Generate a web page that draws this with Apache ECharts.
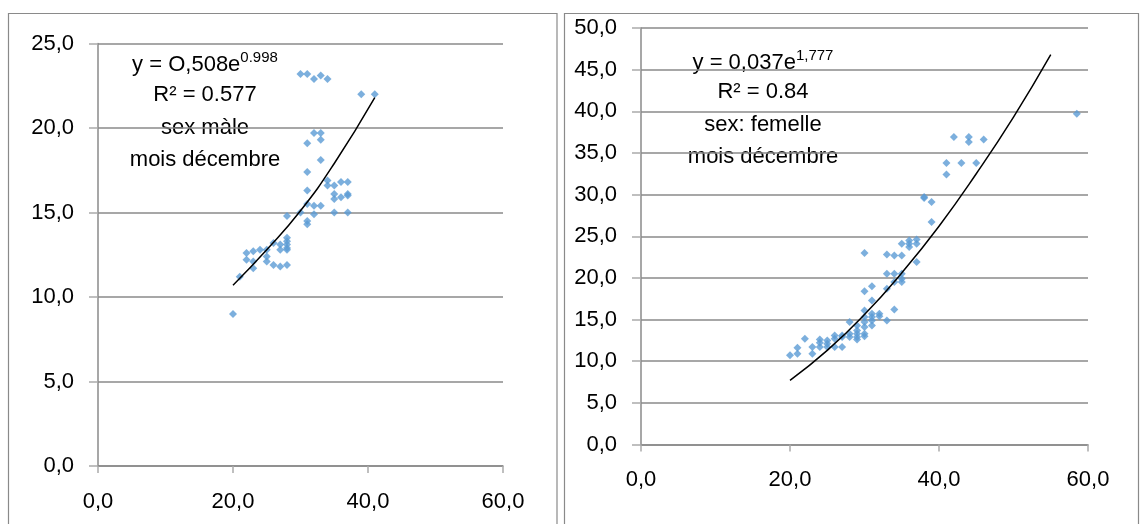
<!DOCTYPE html>
<html><head><meta charset="utf-8">
<script src="https://cdn.jsdelivr.net/npm/echarts/dist/echarts.min.js"></script>
<style>html,body{margin:0;padding:0;background:#fff}#c{width:1142px;height:524px}</style>
</head><body><div id="c"></div>
<script>
// Left panel: male, December
var maleX = [20,21,22,22,23,23,23,24,25,25,25,26,26,27,27,27,28,28,28,28,28,28,28,30,30,31,31,31,31,31,31,31,32,32,32,32,33,33,33,33,33,34,34,34,35,35,35,35,36,36,37,37,37,37,39,41];
var maleY = [9.0,11.2,12.6,12.2,12.7,12.1,11.7,12.8,12.8,12.4,12.1,13.2,11.9,13.1,12.8,11.8,13.5,13.3,13.1,12.9,12.8,11.9,14.8,15.0,23.2,23.2,19.1,17.4,16.3,15.5,14.5,14.3,22.9,19.7,15.4,14.9,23.1,19.7,19.3,18.1,15.4,22.9,16.9,16.6,16.6,16.1,15.8,15.0,16.8,15.9,16.8,16.1,16.0,15.0,22.0,22.0];
var maleTrendX = [20,25,30,35,41];
var maleTrendY = [10.7,12.8,15.1,17.9,21.8];
// Right panel: female, December
var femX = [20,21,21,22,23,23,24,24,24,25,25,25,26,26,26,27,27,27,28,28,28,29,29,29,29,29,30,30,30,30,30,30,30,30,31,31,31,31,31,31,32,32,33,33,33,33,34,34,34,34,35,35,35,35,35,36,36,36,37,37,37,38,38,39,39,41,41,42,43,44,44,45,46,58.5];
var femY = [10.7,11.6,10.9,12.7,11.7,10.9,12.6,12.2,11.7,12.5,12.1,11.7,13.1,12.7,11.7,12.9,11.7,13.1,14.7,12.9,13.3,14.3,13.7,13.3,12.9,12.6,23.0,18.4,16.1,15.3,14.7,14.1,13.3,13.0,19.0,17.3,15.7,14.9,14.3,15.3,15.7,15.4,22.8,20.5,18.7,14.9,22.7,20.5,19.5,16.2,24.1,22.7,20.5,19.9,19.5,24.5,24.1,23.7,24.6,24.1,21.9,29.7,29.6,29.1,26.7,33.8,32.4,36.9,33.8,36.9,36.3,33.8,36.6,39.7];
var femTrendX = [20,25,30,35,40,45,50,55];
var femTrendY = [7.7,11.3,15.6,20.6,26.2,32.5,39.3,46.8];
var xTicks = {min:0, max:60, interval:20};
var leftNotes = ['y = O,508e', '0.998', 'R² = 0.577', 'sex màle', 'mois décembre'];
var rightNotes = ['y = 0,037e', '1,777', 'R² = 0.84', 'sex: femelle', 'mois décembre'];

function zip(a,b){return a.map(function(v,i){return [v,b[i]];});}
var FONT = '"Liberation Sans", Arial, sans-serif';
var GRAY = '#8a8a8a';
function fmt(v){return v.toFixed(1).replace('.',',');}
function xAx(g,m){return {type:'value',gridIndex:g,min:xTicks.min,max:xTicks.max,interval:xTicks.interval,
  axisLine:{show:true,onZero:false,lineStyle:{color:GRAY,width:1.5}},
  axisTick:{show:true,length:7,lineStyle:{color:'#aaa',width:1.5}},
  splitLine:{show:false},
  axisLabel:{formatter:fmt,color:'#000',fontFamily:FONT,fontSize:22,margin:m}};}
function yAx(g,max,iv){return {type:'value',gridIndex:g,min:0,max:max,interval:iv,
  axisLine:{show:true,lineStyle:{color:GRAY,width:1.5}},
  axisTick:{show:true,length:9,lineStyle:{color:'#aaa',width:1.5}},
  splitLine:{show:true,lineStyle:{color:GRAY,width:1.5}},
  axisLabel:{formatter:fmt,color:'#000',fontFamily:FONT,fontSize:22,margin:24}};}
function notes(n,cx,ys){
  var t = [];
  t.push({type:'text',x:cx,y:ys[0],style:{text:'{a|'+n[0]+'}{s|'+n[1]+'}',align:'center',
    rich:{a:{fontSize:22,fontFamily:FONT,fill:'#000',lineHeight:26,verticalAlign:'bottom'},
          s:{fontSize:15,fontFamily:FONT,fill:'#000',lineHeight:26,verticalAlign:'top'}},fill:'#000'}});
  for (var i=2;i<n.length;i++){
    t.push({type:'text',x:cx,y:ys[i-1],style:{text:n[i],font:'22px '+FONT,fill:'#000',align:'center'}});
  }
  return t;
}
var chart = echarts.init(document.getElementById('c'),null,{renderer:'canvas'});
var g = [
  {type:'rect',shape:{x:8.5,y:13.5,width:548.5,height:600},style:{fill:'none',stroke:GRAY,lineWidth:1.2},silent:true,z:-1},
  {type:'rect',shape:{x:564.5,y:13.5,width:574,height:600},style:{fill:'none',stroke:GRAY,lineWidth:1.2},silent:true,z:-1}
];
g = g.concat(notes(leftNotes,205,[50,84,117,149]), notes(rightNotes,763,[48,81,114,146]));
chart.setOption({
  animation:false,
  backgroundColor:'#fff',
  grid:[{left:98,right:639,top:43.5,bottom:58},{left:641,right:54,top:28,bottom:79.5}],
  xAxis:[xAx(0,25),xAx(1,24)],
  yAxis:[yAx(0,25,5),yAx(1,50,5)],
  series:[
    {type:'scatter',xAxisIndex:0,yAxisIndex:0,data:zip(maleX,maleY),symbol:'diamond',symbolSize:8,itemStyle:{color:'#5B9BD5'}},
    {type:'line',xAxisIndex:0,yAxisIndex:0,data:zip(maleTrendX,maleTrendY),smooth:true,showSymbol:false,lineStyle:{color:'#000',width:1.5},z:3},
    {type:'scatter',xAxisIndex:1,yAxisIndex:1,data:zip(femX,femY),symbol:'diamond',symbolSize:8,itemStyle:{color:'#5B9BD5'}},
    {type:'line',xAxisIndex:1,yAxisIndex:1,data:zip(femTrendX,femTrendY),smooth:true,showSymbol:false,lineStyle:{color:'#000',width:1.5},z:3}
  ],
  graphic:g
});
</script></body></html>
